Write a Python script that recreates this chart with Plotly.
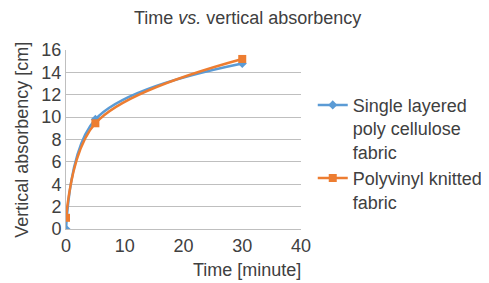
import plotly.graph_objects as go

time_min = [0, 5, 30]
single_layered = [0, 9.8, 14.8]
polyvinyl = [1.0, 9.45, 15.2]
series_names = ["Single layered<br>poly cellulose<br>fabric", "Polyvinyl knitted<br>fabric"]

fig = go.Figure()
fig.add_trace(go.Scatter(x=time_min, y=single_layered, name=series_names[0], mode="lines+markers",
                         line=dict(color="#5B9BD5", width=2.5, shape="spline", smoothing=1),
                         marker=dict(symbol="diamond", size=7, color="#5B9BD5")))
fig.add_trace(go.Scatter(x=time_min, y=polyvinyl, name=series_names[1], mode="lines+markers",
                         line=dict(color="#ED7D31", width=2.5, shape="spline", smoothing=1),
                         marker=dict(symbol="square", size=8, color="#ED7D31")))

font = "Liberation Sans, Arial, sans-serif"
txt = "#404040"
# page body has an 8px margin; compensate so the plot area lands where the reference has it
fig.update_layout(
    width=489, height=283,
    margin=dict(l=58, r=196, t=42, b=62, autoexpand=False),
    paper_bgcolor="white", plot_bgcolor="white",
    font=dict(family=font, color=txt, size=18),
    title=dict(text="Time <i>vs.</i> vertical absorbency", x=0.49, xanchor="center",
               y=0.965, yanchor="middle", font=dict(size=18, color=txt)),
    legend=dict(x=1.05, y=0.795, xanchor="left", yanchor="top", font=dict(size=18, color=txt),
                tracegroupgap=0, itemwidth=30, valign="top"),
    showlegend=True,
)
fig.update_xaxes(range=[0, 40], tickvals=[0, 10, 20, 30, 40], showgrid=False, zeroline=False,
                 showline=True, linecolor="#BFBFBF", ticks="", tickfont=dict(size=18, color=txt))
fig.update_yaxes(range=[0, 16], tickvals=list(range(0, 17, 2)), showgrid=True, gridcolor="#BFBFBF",
                 zeroline=False, showline=True, linecolor="#BFBFBF", ticks="",
                 tickfont=dict(size=18, color=txt))
fig.add_annotation(text="Time [minute]", xref="paper", yref="paper", x=0.77, y=-0.229,
                   xanchor="center", yanchor="middle", showarrow=False,
                   font=dict(size=18, color=txt))
fig.add_annotation(text="Vertical absorbency [cm]", xref="paper", yref="paper", x=-0.19, y=0.5,
                   xanchor="center", yanchor="middle", showarrow=False, textangle=-90,
                   font=dict(size=18, color=txt))
fig.write_html("out.html")
